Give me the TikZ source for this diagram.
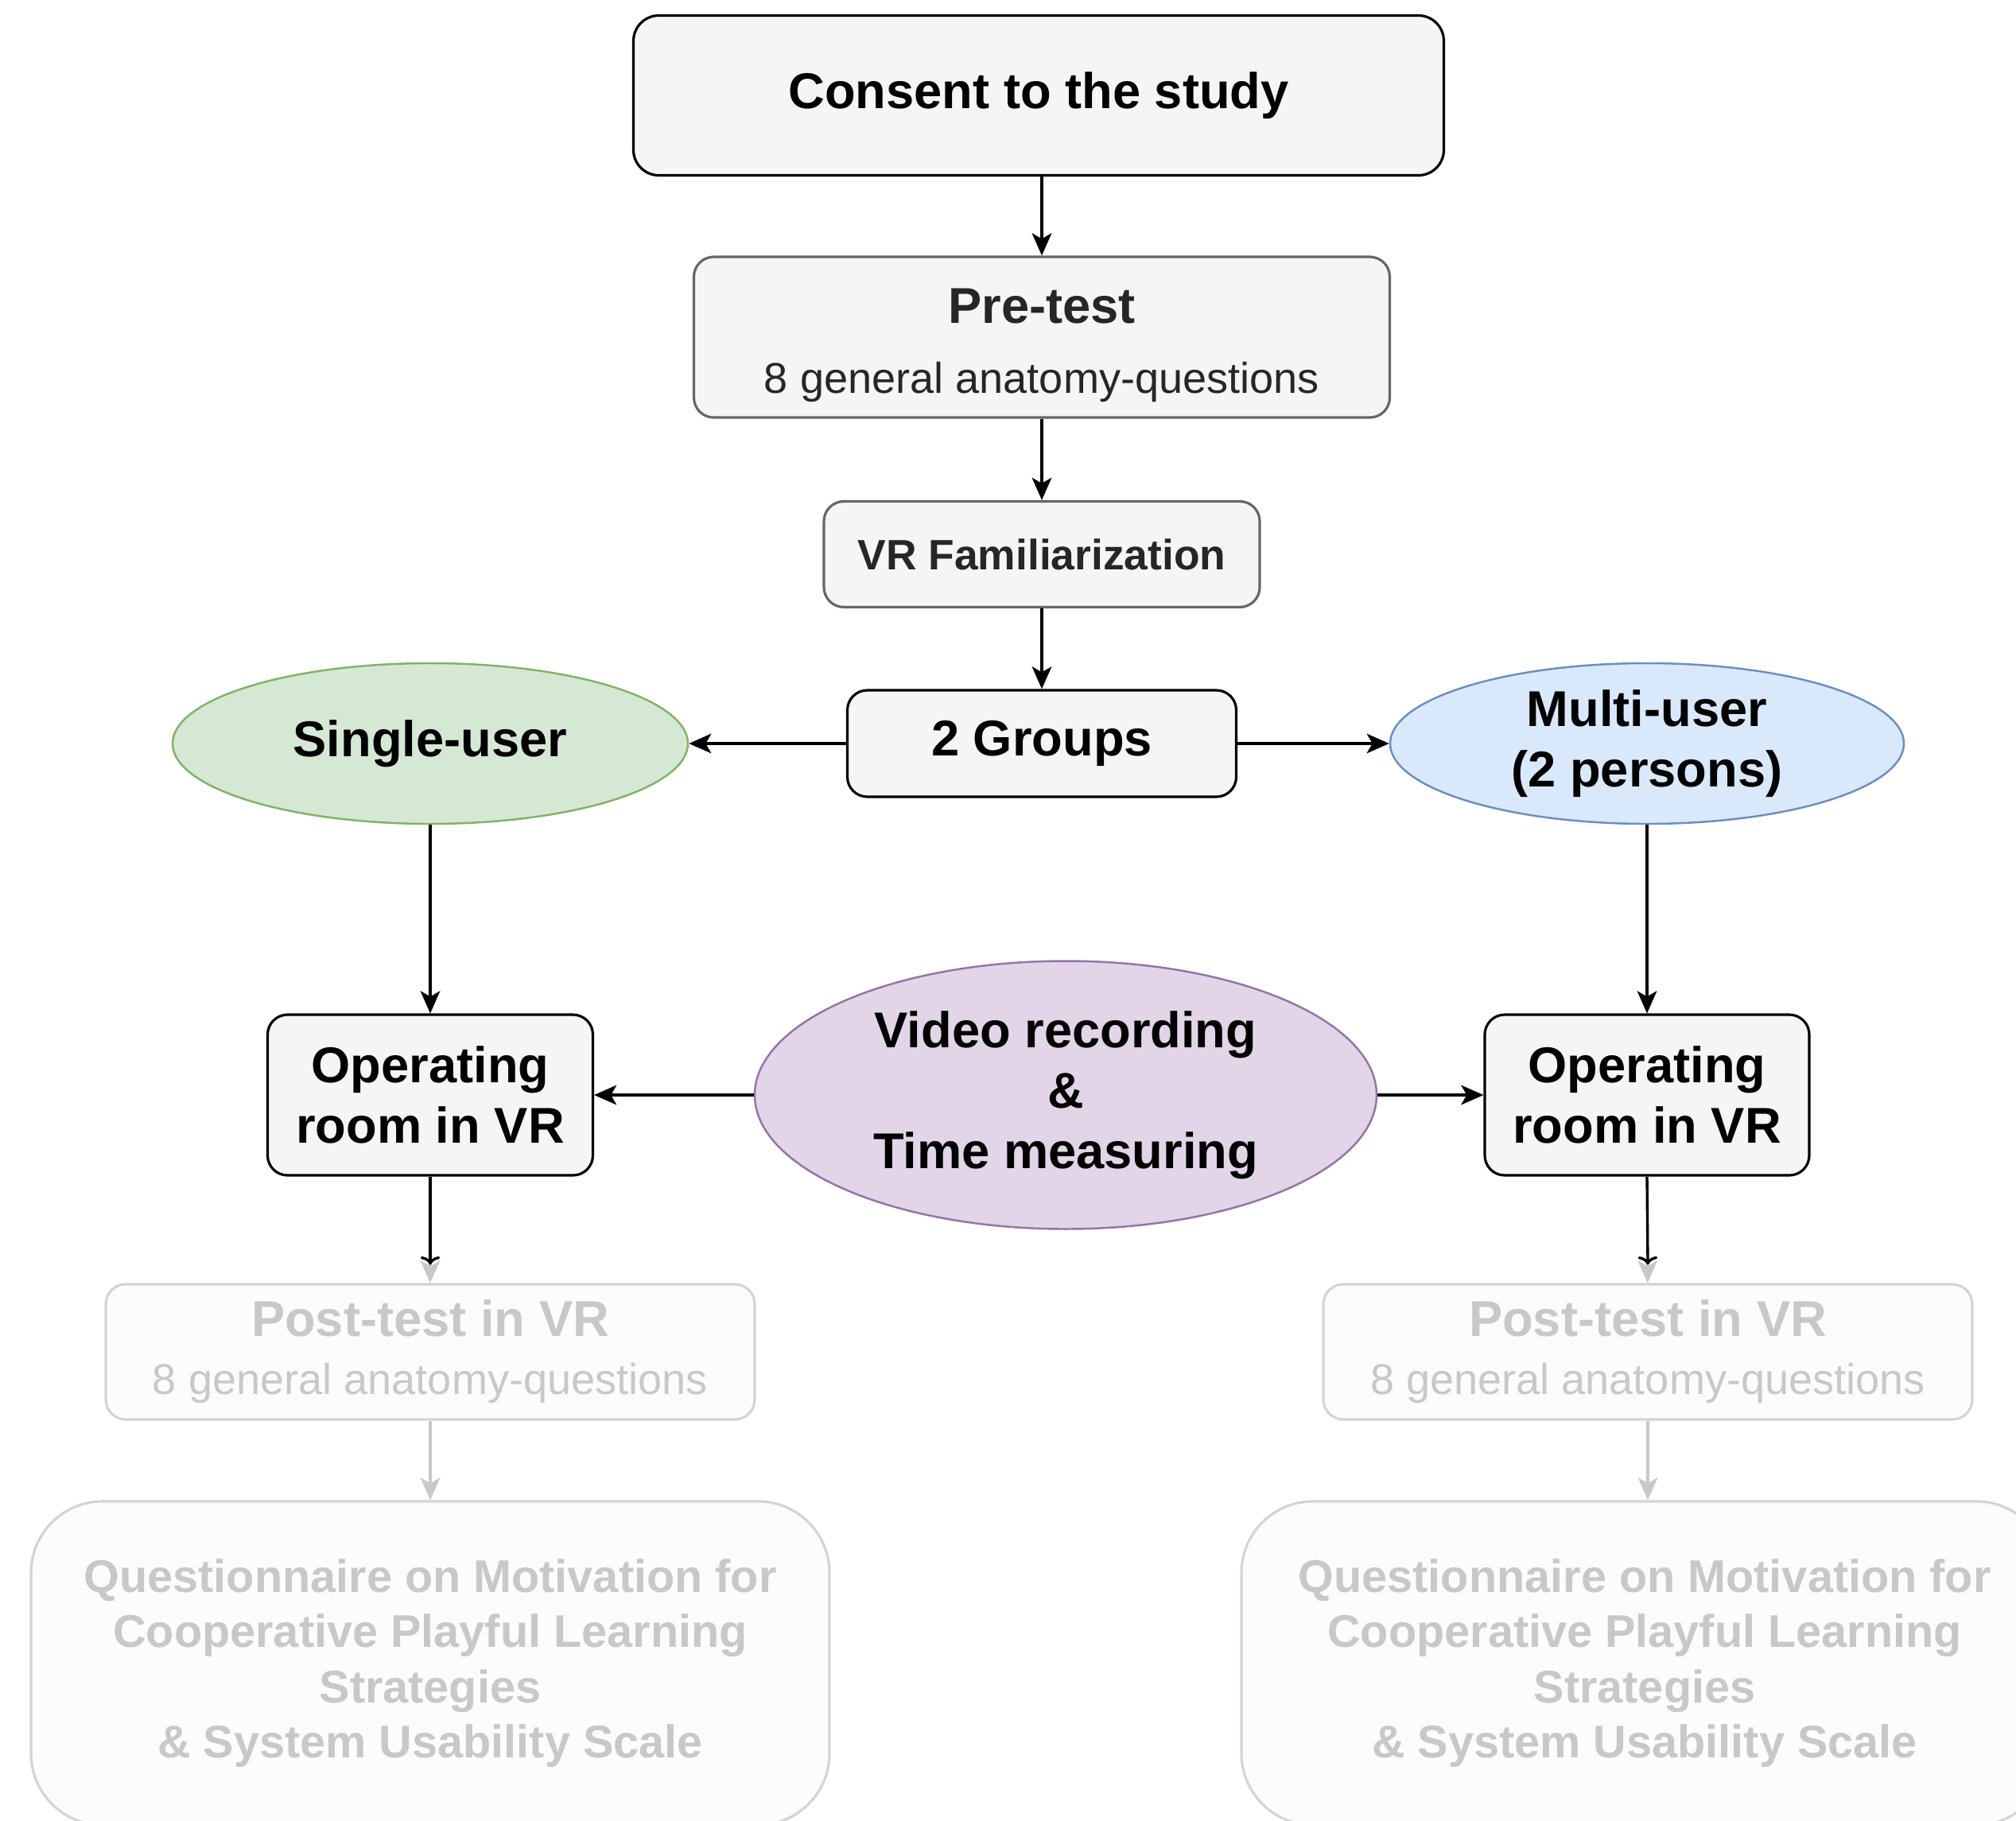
\documentclass[tikz,border=0pt]{standalone}
\usepackage{fontspec}
\setmainfont{Liberation Sans}
\usetikzlibrary{arrows.meta,shapes.geometric,calc}
\definecolor{boxfill}{HTML}{F5F5F5}
\definecolor{greenfill}{HTML}{D5E8D4}
\definecolor{greenline}{HTML}{82B366}
\definecolor{bluefill}{HTML}{DAE8FC}
\definecolor{blueline}{HTML}{6C8EBF}
\definecolor{purplefill}{HTML}{E1D5E7}
\definecolor{purpleline}{HTML}{9673A6}
\definecolor{fadetext}{HTML}{C8C8C8}
\definecolor{fadeline}{HTML}{D4D4D4}
\definecolor{fadefill}{HTML}{FCFCFC}
\definecolor{grayline}{HTML}{666666}
\tikzset{
  bigfont/.style={font=\fontsize{18}{21.6}\selectfont\bfseries},
  stepbox/.style={draw=black, fill=boxfill, line width=0.9pt, rounded corners=0.25cm,
                  inner sep=0pt, align=center, text=black},
  graybox/.style={stepbox, draw=grayline, text=black!85},
  oval/.style={ellipse, line width=0.7pt, inner sep=0pt, align=center, bigfont},
  fadebox/.style={draw=fadeline, fill=fadefill, line width=0.9pt, rounded corners=0.25cm,
                  inner sep=0pt, align=center, text=fadetext},
  conn/.style={draw=black, line width=0.95pt, -{Stealth[length=8pt,width=7pt,inset=2pt]}},
  fadeconn/.style={draw=fadetext, line width=0.9pt, -{Stealth[length=8pt,width=7pt,inset=2pt]}},
}
\begin{document}
\begin{tikzpicture}
\clip (0,0) rectangle (25.35,-22.89);
\fill[white] (0,0) rectangle (25.35,-22.89);

\node[stepbox, bigfont, rounded corners=0.32cm, minimum width=10.19cm, minimum height=2.01cm] (consent) at (13.06,-1.20) {Consent to the study};
\node[graybox, minimum width=8.75cm, minimum height=2.02cm, font=\fontsize{15.4}{25}\selectfont] (pre) at (13.10,-4.24)
  {\rule{0pt}{0.64cm}{\fontsize{18}{25}\selectfont\bfseries Pre-test}\\8 general anatomy-questions};
\node[graybox, minimum width=5.48cm, minimum height=1.33cm, font=\fontsize{15.2}{18}\selectfont\bfseries] (fam) at (13.10,-6.97) {VR Familiarization};
\node[stepbox, bigfont, minimum width=4.89cm, minimum height=1.34cm] (groups) at (13.10,-9.35) {2 Groups};

\node[oval, fill=greenfill, draw=greenline, minimum width=6.48cm, minimum height=2.02cm] (single) at (5.41,-9.35) {Single-user};
\node[oval, fill=bluefill, draw=blueline, minimum width=6.46cm, minimum height=2.02cm] (multi) at (20.71,-9.35) {Multi-user\\(2 persons)};

\node[stepbox, bigfont, minimum width=4.09cm, minimum height=2.02cm] (opl) at (5.41,-13.77) {Operating\\room in VR};
\node[oval, fill=purplefill, draw=purpleline, minimum width=7.82cm, minimum height=3.37cm] (video) at (13.40,-13.77) {Video recording\\\&\\Time measuring};
\node[stepbox, bigfont, minimum width=4.08cm, minimum height=2.02cm] (opr) at (20.71,-13.77) {Operating\\room in VR};

\node[fadebox, minimum width=8.16cm, minimum height=1.70cm, font=\fontsize{15.4}{20.7}\selectfont] (postl) at (5.41,-17.00)
  {{\fontsize{18}{20.7}\selectfont\bfseries Post-test in VR}\\8 general anatomy-questions};
\node[fadebox, minimum width=8.16cm, minimum height=1.70cm, font=\fontsize{15.4}{20.7}\selectfont] (postr) at (20.72,-17.00)
  {{\fontsize{18}{20.7}\selectfont\bfseries Post-test in VR}\\8 general anatomy-questions};

\node[fadebox, rounded corners=0.9cm, minimum width=10.04cm, minimum height=4.07cm, font=\fontsize{16.4}{19.7}\selectfont\bfseries] (ql) at (5.41,-20.915)
  {Questionnaire on Motivation for\\Cooperative Playful Learning\\Strategies\\\& System Usability Scale};
\node[fadebox, rounded corners=0.9cm, minimum width=10.14cm, minimum height=4.07cm, font=\fontsize{16.4}{19.7}\selectfont\bfseries] (qr) at (20.68,-20.915)
  {Questionnaire on Motivation for\\Cooperative Playful Learning\\Strategies\\\& System Usability Scale};

\draw[conn] (consent.south -| pre.north) -- (pre);
\draw[conn] (pre) -- (fam);
\draw[conn] (fam) -- (groups);
\draw[conn] (groups) -- (single);
\draw[conn] (groups) -- (multi);
\draw[conn] (single) -- (opl);
\draw[conn] (multi) -- (opr);
\draw[conn] (video) -- (opl);
\draw[conn] (video) -- (opr);

\coordinate (tl) at ($(postl.north)+(0,0.23)$);
\coordinate (tr) at ($(postr.north)+(0,0.23)$);
\draw[fadeconn] (opl) -- (postl);
\draw[fadeconn] (opr) -- (postr);
\draw[line width=0.95pt, -{To[length=3pt,width=7pt]}] (opl) -- (tl);
\draw[line width=0.95pt, -{To[length=3pt,width=7pt]}] (opr.south) -- (tr);
\draw[fadeconn] (postl) -- (ql);
\draw[fadeconn] (postr.south) -- (postr.south |- qr.north);
\end{tikzpicture}
\end{document}
